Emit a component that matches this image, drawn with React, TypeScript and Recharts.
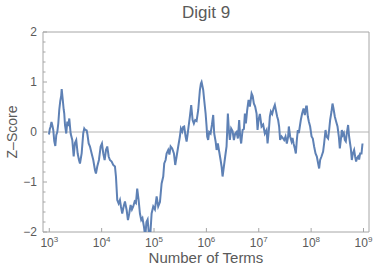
import { LineChart, Line, XAxis, YAxis, ReferenceLine, ReferenceArea } from 'recharts';

// log10 of the number of terms
const logTerms = [
  2.994, 3.010, 3.023, 3.042, 3.061, 3.076, 3.095, 3.115, 3.134, 3.153,
  3.172, 3.191, 3.210, 3.227, 3.237, 3.256, 3.275, 3.286, 3.300, 3.324,
  3.344, 3.363, 3.382, 3.408, 3.439, 3.466, 3.490, 3.515, 3.542, 3.567,
  3.586, 3.618, 3.649, 3.668, 3.681, 3.714, 3.729, 3.752, 3.777, 3.809,
  3.840, 3.872, 3.891, 3.916, 3.948, 3.981, 4.006, 4.031, 4.057, 4.082,
  4.107, 4.134, 4.158, 4.191, 4.221, 4.254, 4.273, 4.298, 4.324, 4.349,
  4.368, 4.393, 4.420, 4.445, 4.477, 4.502, 4.527, 4.553, 4.578, 4.603,
  4.630, 4.655, 4.679, 4.706, 4.731, 4.756, 4.779, 4.807, 4.832, 4.855,
  4.878, 4.903, 4.926, 4.954, 4.985, 5.017, 5.050, 5.080, 5.113, 5.145,
  5.176, 5.195, 5.221, 5.240, 5.271, 5.294, 5.317, 5.347, 5.380, 5.405,
  5.431, 5.462, 5.494, 5.513, 5.538, 5.557, 5.576, 5.603, 5.622, 5.641,
  5.660, 5.685, 5.710, 5.737, 5.761, 5.786, 5.813, 5.844, 5.876, 5.895,
  5.908, 5.924, 5.939, 5.958, 5.985, 6.004, 6.015, 6.034, 6.053, 6.080,
  6.105, 6.130, 6.149, 6.176, 6.195, 6.219, 6.244, 6.271, 6.290, 6.309,
  6.334, 6.359, 6.385, 6.410, 6.429, 6.448, 6.473, 6.500, 6.525, 6.550,
  6.576, 6.601, 6.626, 6.645, 6.664, 6.691, 6.716, 6.735, 6.754, 6.779,
  6.805, 6.830, 6.863, 6.884, 6.906, 6.931, 6.958, 6.977, 6.996, 7.021,
  7.053, 7.084, 7.116, 7.149, 7.168, 7.193, 7.212, 7.231, 7.256, 7.282,
  7.307, 7.326, 7.351, 7.370, 7.389, 7.408, 7.435, 7.460, 7.485, 7.511,
  7.536, 7.561, 7.574, 7.599, 7.626, 7.645, 7.664, 7.689, 7.708, 7.727,
  7.746, 7.765, 7.784, 7.803, 7.828, 7.855, 7.880, 7.905, 7.918, 7.937,
  7.956, 7.981, 8.008, 8.032, 8.057, 8.084, 8.109, 8.134, 8.153, 8.172,
  8.198, 8.229, 8.248, 8.275, 8.294, 8.324, 8.344, 8.363, 8.389, 8.408,
  8.427, 8.452, 8.477, 8.504, 8.529, 8.548, 8.567, 8.586, 8.605, 8.624,
  8.643, 8.662, 8.681, 8.706, 8.725, 8.744, 8.758, 8.777, 8.796, 8.821,
  8.840, 8.859, 8.878, 8.897, 8.916, 8.935, 8.962, 8.981,
];

const zScores = [
  -0.05, 0.06, 0.1, 0.2, 0.12, 0.04, -0.18, -0.28, -0.06, 0.0,
  0.17, 0.45, 0.62, 0.72, 0.86, 0.66, 0.45, 0.37, 0.14, -0.03,
  0.21, 0.12, 0.27, -0.03, -0.16, -0.49, -0.22, -0.16, -0.43, -0.56,
  -0.63, -0.43, -0.02, 0.07, 0.05, 0.03, -0.05, -0.23, -0.29, -0.43,
  -0.56, -0.76, -0.83, -0.69, -0.56, -0.29, -0.23, -0.43, -0.56, -0.36,
  -0.29, -0.49, -0.56, -0.59, -0.66, -0.69, -0.89, -1.36, -1.43, -1.36,
  -1.49, -1.63, -1.49, -1.39, -1.56, -1.76, -1.63, -1.46, -1.55, -1.49,
  -1.39, -1.42, -1.13, -1.36, -1.63, -1.76, -1.72, -1.89, -2.1, -1.8,
  -1.75, -2.05, -2.1, -1.63, -1.49, -1.55, -1.29, -1.49, -1.4, -1.03,
  -0.89, -0.63, -0.56, -0.43, -0.36, -0.45, -0.29, -0.33, -0.43, -0.66,
  -0.49, -0.29, -0.09, 0.07, 0.01, 0.1, 0.11, -0.09, -0.19, -0.05,
  0.11, 0.31, 0.54, 0.24, 0.17, 0.24, 0.22, 0.44, 0.84, 0.97,
  1.0, 0.92, 0.84, 0.64, 0.37, 0.11, -0.09, -0.16, 0.0, -0.03,
  0.14, 0.34, -0.03, -0.19, -0.36, -0.23, -0.39, -0.56, -0.69, -0.89,
  -0.69, -0.49, -0.29, 0.37, 0.04, -0.16, 0.07, 0.02, -0.16, -0.03,
  0.0, -0.13, 0.24, -0.09, -0.23, 0.04, 0.06, 0.37, 0.17, 0.44,
  0.64, 0.51, 0.77, 0.72, 0.57, 0.51, 0.37, 0.04, 0.24, 0.36,
  0.11, 0.15, -0.03, 0.04, -0.23, 0.04, 0.31, 0.41, 0.36, 0.47,
  0.54, 0.44, 0.31, 0.24, 0.11, -0.16, -0.09, -0.12, -0.16, -0.09,
  -0.23, -0.09, 0.11, -0.09, -0.19, -0.12, -0.23, -0.33, -0.43, -0.16,
  0.04, -0.02, 0.11, 0.24, 0.37, 0.47, 0.34, 0.51, 0.51, 0.31,
  0.21, 0.11, -0.09, -0.13, -0.29, -0.43, -0.49, -0.63, -0.73, -0.56,
  -0.49, -0.39, -0.23, 0.04, -0.09, -0.13, 0.04, 0.24, 0.41, 0.57,
  0.47, 0.31, 0.21, 0.11, -0.09, -0.33, -0.16, 0.04, -0.06, -0.02,
  -0.16, -0.19, -0.03, 0.14, -0.09, -0.23, -0.33, -0.56, -0.43, -0.36,
  -0.49, -0.59, -0.52, -0.49, -0.55, -0.43, -0.43, -0.23,
];

const xTickExponents = [3, 4, 5, 6, 7, 8, 9];
const yTicks = [
  -2, -1.8, -1.6, -1.4, -1.2, -1, -0.8, -0.6, -0.4, -0.2, 0,
  0.2, 0.4, 0.6, 0.8, 1, 1.2, 1.4, 1.6, 1.8, 2,
];

const data = logTerms.map((e, i) => ({ terms: Math.pow(10, e), z: zScores[i] }));
const xDomain = [Math.pow(10, 2.88), Math.pow(10, 9.105)];

const FONT = '"Liberation Sans", Arial, sans-serif';
const TEXT = '#5a5a5a';
const FRAME = '#a6a6a6';

function XTick(props: any) {
  const { x, y, payload } = props;
  const exp = Math.round(Math.log10(payload.value));
  return (
    <g>
      <line x1={x} y1={y} x2={x} y2={y - 4} stroke={FRAME} />
      <text x={x} y={y + 15} textAnchor="middle" fill={TEXT} fontSize={12} fontFamily={FONT}>
        <tspan>10</tspan>
        <tspan dy={-5} fontSize={8}>{exp}</tspan>
      </text>
    </g>
  );
}

function YTick(props: any) {
  const { x, y, payload } = props;
  const v = payload.value;
  const major = Math.abs(v - Math.round(v)) < 1e-6;
  return (
    <g>
      <line x1={x} y1={y} x2={x + (major ? 4 : 2.5)} y2={y} stroke={FRAME} />
      {major && (
        <text x={x - 6} y={y + 4} textAnchor="end" fill={TEXT} fontSize={12} fontFamily={FONT}>
          {v < 0 ? `\u2212${Math.abs(v)}` : `${v}`}
        </text>
      )}
    </g>
  );
}

export default function App() {
  return (
    <div style={{ position: 'absolute', left: 0, top: 0, width: 374, height: 277, background: '#fff', fontFamily: FONT }}>
      <LineChart width={374} height={277} data={data} margin={{ top: 32, right: 5, bottom: 0, left: 13 }}>
        <XAxis
          dataKey="terms"
          type="number"
          scale="log"
          domain={xDomain}
          allowDataOverflow
          ticks={xTickExponents.map((k) => Math.pow(10, k))}
          interval={0}
          tickSize={0}
          tickMargin={0}
          axisLine={false}
          tick={XTick}
          height={45}
        />
        <YAxis
          type="number"
          domain={[-2, 2]}
          allowDataOverflow
          ticks={yTicks}
          interval={0}
          tickSize={0}
          tickMargin={0}
          axisLine={false}
          tick={YTick}
          width={30}
        />
        <ReferenceLine y={0} stroke="#b4b4b4" strokeWidth={1} />
        <ReferenceArea x1={xDomain[0]} x2={xDomain[1]} y1={-2} y2={2} fill="none" stroke={FRAME} strokeWidth={1} />
        <Line
          type="linear"
          dataKey="z"
          stroke="#5E81B5"
          strokeWidth={2}
          dot={false}
          isAnimationActive={false}
        />
      </LineChart>
      <div style={{ position: 'absolute', left: 43, width: 326, top: 4, lineHeight: 1, textAlign: 'center', fontSize: 17, color: TEXT }}>
        Digit 9
      </div>
      <div style={{ position: 'absolute', left: 43, width: 326, top: 250, lineHeight: 1, textAlign: 'center', fontSize: 15, color: TEXT }}>
        Number of Terms
      </div>
      <div
        style={{
          position: 'absolute',
          left: 12,
          top: 132,
          lineHeight: 1,
          transform: 'translate(-50%, -50%) rotate(-90deg)',
          whiteSpace: 'nowrap',
          fontSize: 14,
          color: TEXT,
        }}
      >
        Z–Score
      </div>
    </div>
  );
}
